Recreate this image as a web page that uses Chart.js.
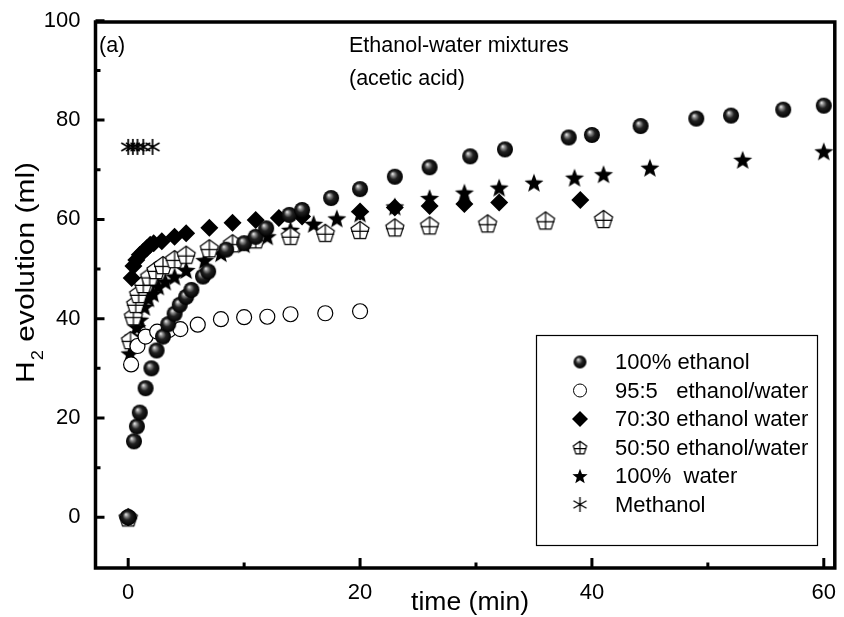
<!DOCTYPE html>
<html><head><meta charset="utf-8">
<script src="https://cdn.jsdelivr.net/npm/chart.js@4.4.0/dist/chart.umd.min.js"></script>
<style>html,body{margin:0;padding:0;background:#fff}#wrap{width:844px;height:617px}</style>
</head><body><div id="wrap"><canvas id="c" width="844" height="617"></canvas></div>
<script>
// ---- data ----
const X_TICKS = [0, 20, 40, 60];
const X_MINOR = [10, 30, 50];
const Y_TICKS = [0, 20, 40, 60, 80, 100];
const Y_MINOR = [10, 30, 50, 70, 90];
const LABELS = ["100% ethanol", "95:5   ethanol/water", "70:30 ethanol water", "50:50 ethanol/water", "100%  water", "Methanol"];

const tEthanol = [0, 0.5, 0.75, 1.0, 1.5, 2.0, 2.45, 3.0, 3.45, 4.0, 4.45, 5.0, 5.45, 6.45, 6.9, 8.45, 10.0, 11.0, 11.9, 13.9, 15.0, 17.5, 20, 23, 26, 29.5, 32.5, 38, 40, 44.2, 49, 52, 56.5, 60];
const vEthanol = [0, 15.3, 18.3, 21.1, 26.0, 30.0, 33.6, 36.4, 38.9, 41.0, 42.8, 44.4, 45.8, 48.5, 49.5, 53.9, 55.2, 56.5, 58.2, 60.9, 61.9, 64.3, 66.1, 68.6, 70.5, 72.7, 74.1, 76.5, 77.0, 78.8, 80.3, 80.9, 82.1, 82.9];

const t95 = [0, 0.25, 0.8, 1.5, 2.5, 3.5, 4.5, 6, 8, 10, 12, 14, 17, 20];
const v95 = [0, 30.8, 34.5, 36.4, 37.4, 37.7, 37.9, 38.8, 39.9, 40.3, 40.4, 40.9, 41.1, 41.5];

const t70 = [0, 0.3, 0.45, 0.7, 1.0, 1.3, 1.6, 1.9, 2.2, 2.9, 4.0, 5.0, 7.0, 9.0, 11.0, 13.0, 15.0, 20, 23, 26, 29, 32, 39];
const v70 = [0, 48.2, 50.6, 51.8, 52.9, 53.5, 54.2, 54.9, 55.2, 55.6, 56.5, 57.2, 58.3, 59.3, 59.9, 60.3, 60.6, 61.6, 62.4, 62.7, 63.1, 63.4, 63.9];

const t50 = [0, 0.2, 0.45, 0.65, 0.9, 1.3, 1.85, 2.4, 3.0, 4.0, 5.0, 7.0, 9.0, 11.0, 14.0, 17, 20, 23, 26, 31, 36, 41];
const v50 = [0, 35.7, 40.5, 43.0, 45.0, 47.0, 48.5, 49.8, 50.8, 52.0, 52.9, 54.2, 55.2, 56.0, 56.7, 57.3, 57.9, 58.4, 58.8, 59.2, 59.8, 60.1];

const tWater = [0, 0.15, 0.45, 0.75, 1.0, 1.4, 1.75, 2.15, 2.6, 3.2, 4.0, 5.0, 6.6, 8.0, 10.0, 12.0, 14.0, 16.0, 18.0, 20, 23, 26, 29, 32, 35, 38.5, 41, 45, 53, 60];
const vWater = [0, 33.0, 36.4, 38.3, 39.8, 42.4, 44.1, 45.1, 46.5, 47.5, 48.5, 49.8, 51.8, 53.2, 55.0, 56.6, 57.9, 59.1, 60.2, 61.2, 62.6, 64.3, 65.4, 66.4, 67.4, 68.4, 69.1, 70.4, 72.0, 73.7];

const tMeth = [0, 0, 0.4, 0.8, 1.3, 2.1];
const vMeth = [0, 74.6, 74.6, 74.6, 74.6, 74.6];

// ---- styles ----
const FONT = '"Liberation Sans", Arial, Helvetica, sans-serif';
function mk(size, draw) {
  const c = document.createElement('canvas');
  c.width = size; c.height = size;
  const g = c.getContext('2d');
  draw(g, size / 2, size);
  return c;
}
function sphere(r) {
  return mk(Math.ceil(2 * r + 2), (g, c) => {
    const gr = g.createRadialGradient(c - r * 0.3, c - r * 0.38, r * 0.04, c, c, r);
    gr.addColorStop(0, '#e6e6e6');
    gr.addColorStop(0.2, '#8c8c8c');
    gr.addColorStop(0.5, '#222');
    gr.addColorStop(1, '#000');
    g.beginPath(); g.arc(c, c, r, 0, Math.PI * 2); g.fillStyle = gr; g.fill();
  });
}
function pentagon(r) {
  return mk(Math.ceil(2 * r + 3), (g, c) => {
    const cy = c + r * 0.1;
    g.beginPath();
    for (let i = 0; i < 5; i++) {
      const a = -Math.PI / 2 + i * 2 * Math.PI / 5;
      const x = c + r * Math.cos(a), y = cy + r * Math.sin(a);
      i ? g.lineTo(x, y) : g.moveTo(x, y);
    }
    g.closePath(); g.fillStyle = '#fff'; g.fill();
    g.lineWidth = 1.2; g.strokeStyle = '#000'; g.stroke();
    g.beginPath();
    g.moveTo(c, cy - r); g.lineTo(c, cy + r * Math.cos(Math.PI / 5));
    const hy = cy + r * 0.05;
    const hw = r * 0.93;
    g.moveTo(c - hw, hy); g.lineTo(c + hw, hy);
    g.stroke();
  });
}
function star(r) {
  return mk(Math.ceil(2 * r + 2), (g, c) => {
    g.beginPath();
    for (let i = 0; i < 10; i++) {
      const a = -Math.PI / 2 + i * Math.PI / 5;
      const rr = i % 2 ? r * 0.42 : r;
      const x = c + rr * Math.cos(a), y = c + r * 0.1 + rr * Math.sin(a);
      i ? g.lineTo(x, y) : g.moveTo(x, y);
    }
    g.closePath(); g.fillStyle = '#000'; g.fill();
  });
}
function asterisk(r, lw) {
  return mk(Math.ceil(2 * r + 2), (g, c) => {
    g.strokeStyle = '#000'; g.lineWidth = lw;
    g.beginPath();
    for (let i = 0; i < 3; i++) {
      const a = Math.PI / 2 + i * Math.PI / 3;
      g.moveTo(c + r * Math.cos(a), c + r * Math.sin(a));
      g.lineTo(c - r * Math.cos(a), c - r * Math.sin(a));
    }
    g.stroke();
  });
}
const P_SPHERE = sphere(8), P_PENT = pentagon(9.5), P_STAR = star(10), P_AST = asterisk(8, 1.7);
const L_SPHERE = sphere(6.5), L_PENT = pentagon(7), L_STAR = star(8), L_AST = asterisk(7.5, 1.3);

function pts(t, v) { return t.map((x, i) => ({ x: x, y: v[i] })); }

const datasets = [
  { label: LABELS[0], data: pts(tEthanol, vEthanol), pointStyle: P_SPHERE },
  { label: LABELS[1], data: pts(t95, v95), pointStyle: 'circle', pointRadius: 7.5, backgroundColor: '#fff', borderColor: '#000', borderWidth: 1.2 },
  { label: LABELS[2], data: pts(t70, v70), pointStyle: 'rectRot', pointRadius: 9, backgroundColor: '#000', borderColor: '#000', borderWidth: 0 },
  { label: LABELS[3], data: pts(t50, v50), pointStyle: P_PENT },
  { label: LABELS[4], data: pts(tWater, vWater), pointStyle: P_STAR },
  { label: LABELS[5], data: pts(tMeth, vMeth), pointStyle: P_AST },
].map(d => Object.assign({ showLine: false, pointRadius: 8, pointHoverRadius: 8 }, d));

function fitText(ctx, txt, x, y, width) {
  const w = ctx.measureText(txt).width;
  ctx.save(); ctx.translate(x, y); ctx.scale(width / w, 1); ctx.fillText(txt, 0, 0); ctx.restore();
}

const decor = {
  id: 'decor',
  afterDraw(chart) {
    const ctx = chart.ctx, a = chart.chartArea, xs = chart.scales.x, ys = chart.scales.y;
    ctx.save();
    ctx.strokeStyle = '#000'; ctx.fillStyle = '#000';
    // inward ticks
    ctx.lineWidth = 3;
    ctx.beginPath();
    X_TICKS.forEach(v => { const p = xs.getPixelForValue(v); ctx.moveTo(p, a.bottom); ctx.lineTo(p, a.bottom - 10); });
    X_MINOR.forEach(v => { const p = xs.getPixelForValue(v); ctx.moveTo(p, a.bottom); ctx.lineTo(p, a.bottom - 5.5); });
    Y_TICKS.forEach(v => { const p = ys.getPixelForValue(v); ctx.moveTo(a.left, p); ctx.lineTo(a.left + 9, p); });
    Y_MINOR.forEach(v => { const p = ys.getPixelForValue(v); ctx.moveTo(a.left, p); ctx.lineTo(a.left + 5, p); });
    ctx.stroke();
    // frame
    ctx.lineWidth = 3.5;
    ctx.strokeRect(a.left, a.top, a.right - a.left, a.bottom - a.top);

    // axis titles
    ctx.textBaseline = 'alphabetic';
    ctx.textAlign = 'left';
    ctx.font = '26px ' + FONT;
    fitText(ctx, 'time (min)', 411, 610, 118);

    // rotated y title, stretched along its length
    ctx.save();
    ctx.translate(34, 383);
    ctx.rotate(-Math.PI / 2);
    const big = '26px ' + FONT, small = '16px ' + FONT;
    ctx.font = big; const wH = ctx.measureText('H').width;
    ctx.font = small; const w2 = ctx.measureText('2').width;
    ctx.font = big; const wR = ctx.measureText(' evolution (ml)').width;
    const total = wH + 1 + w2 + wR;
    ctx.scale(221 / total, 1);
    ctx.font = big; ctx.fillText('H', 0, 0);
    ctx.font = small; ctx.fillText('2', wH + 1, 9);
    ctx.font = big; ctx.fillText(' evolution (ml)', wH + 1 + w2, 0);
    ctx.restore();

    // annotations
    ctx.font = '21.5px ' + FONT;
    ctx.fillText('(a)', 99, 52);
    ctx.fillText('Ethanol-water mixtures', 349, 52);
    ctx.fillText('(acetic acid)', 349, 85);

    // legend
    ctx.lineWidth = 1.2;
    ctx.strokeRect(536.5, 335.5, 281, 210);
    const rows = [362, 390.5, 419, 447.5, 476, 504.5];
    const sx = 580;
    ctx.font = '22px ' + FONT;
    ctx.textBaseline = 'middle';
    rows.forEach((y, i) => { ctx.fillText(LABELS[i], 615, y + 1); });
    const img = (c, y) => ctx.drawImage(c, sx - c.width / 2, y - c.height / 2);
    img(L_SPHERE, rows[0]);
    ctx.beginPath(); ctx.arc(sx, rows[1], 6.5, 0, Math.PI * 2); ctx.fillStyle = '#fff'; ctx.fill(); ctx.lineWidth = 1; ctx.stroke();
    ctx.fillStyle = '#000';
    ctx.beginPath(); ctx.moveTo(sx, rows[2] - 8); ctx.lineTo(sx + 8, rows[2]); ctx.lineTo(sx, rows[2] + 8); ctx.lineTo(sx - 8, rows[2]); ctx.closePath(); ctx.fill();
    img(L_PENT, rows[3]);
    img(L_STAR, rows[4]);
    img(L_AST, rows[5]);
    ctx.restore();
  }
};

new Chart(document.getElementById('c'), {
  type: 'scatter',
  data: { datasets },
  options: {
    responsive: false, animation: false, devicePixelRatio: 1,
    layout: { padding: { left: 0, top: 22, right: 7, bottom: 0 } },
    plugins: { legend: { display: false }, tooltip: { enabled: false } },
    scales: {
      x: {
        type: 'linear', min: -2.82, max: 60.95,
        grid: { display: false, drawTicks: false }, border: { display: false },
        afterBuildTicks: s => { s.ticks = X_TICKS.map(v => ({ value: v })); },
        afterFit: s => { s.height = 49; s.paddingLeft = 0; s.paddingRight = 0; },
        ticks: { color: '#000', font: { family: FONT, size: 22 }, padding: 12, maxRotation: 0 }
      },
      y: {
        type: 'linear', min: -10.2, max: 99.75,
        grid: { display: false, drawTicks: false }, border: { display: false },
        afterBuildTicks: s => { s.ticks = Y_TICKS.map(v => ({ value: v })); },
        afterFit: s => { s.width = 95.5; s.paddingTop = 0; s.paddingBottom = 0; },
        ticks: { color: '#000', font: { family: FONT, size: 22 }, padding: 15 }
      }
    }
  },
  plugins: [decor]
});
</script></body></html>
